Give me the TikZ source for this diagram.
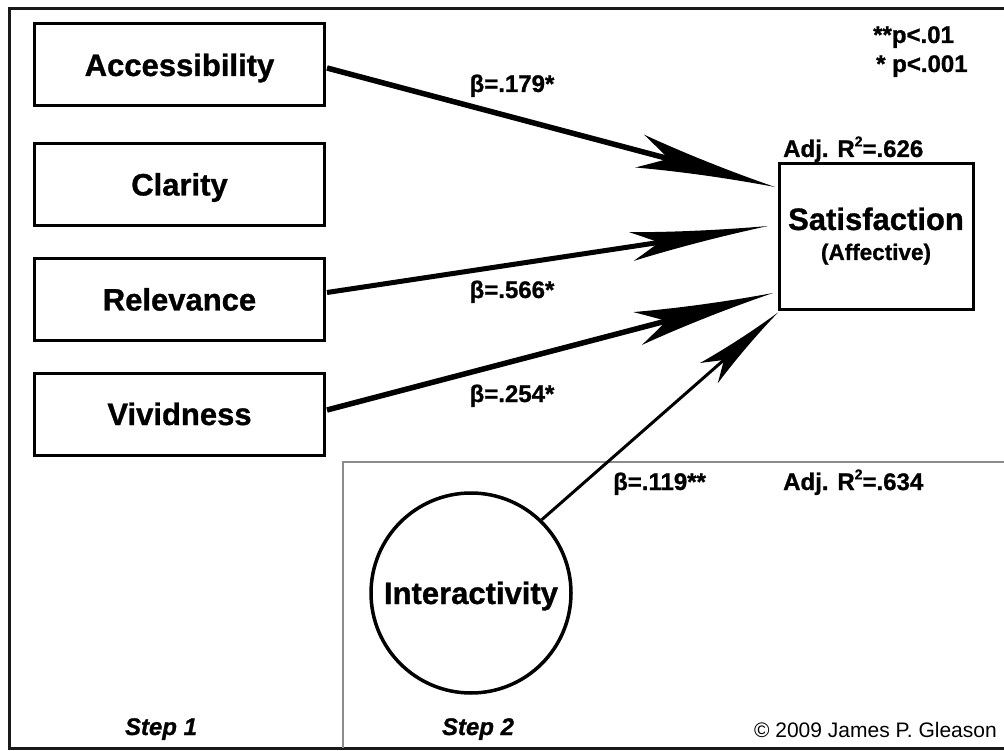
\documentclass[tikz,border=0pt]{standalone}
\usepackage{fontspec}
\setmainfont{Liberation Sans}[BoldFeatures={FakeBold=1}, BoldItalicFeatures={FakeBold=1}]
\usetikzlibrary{arrows.meta,calc}

% long barbed arrow head with concave sides
\newdimen\hdN \newdimen\hdA \newdimen\hdB
\pgfdeclarearrow{
  name = Barb Head,
  parameters = {\the\pgfarrowlength,\the\pgfarrowwidth,\the\pgfarrowinset},
  setup code = {
    \pgfarrowssettipend{0pt}
    \pgfarrowssetbackend{-\pgfarrowlength}
    \hdN=-\pgfarrowlength
    \advance\hdN by \pgfarrowinset
    \advance\hdN by 2pt
    \pgfarrowssetlineend{\hdN}
    \pgfarrowssavethe\pgfarrowlength
    \pgfarrowssavethe\pgfarrowwidth
    \pgfarrowssavethe\pgfarrowinset
  },
  drawing code = {
    \hdN=-\pgfarrowlength \advance\hdN by \pgfarrowinset
    \hdA=-\pgfarrowlength \advance\hdA by .45\pgfarrowinset
    \hdB=-\pgfarrowlength \advance\hdB by .8\pgfarrowinset
    \pgfpathmoveto{\pgfpointorigin}
    \pgfpathcurveto{\pgfpoint{-.4\pgfarrowlength}{.12\pgfarrowwidth}}{\pgfpoint{-.75\pgfarrowlength}{.32\pgfarrowwidth}}{\pgfpoint{-\pgfarrowlength}{.5\pgfarrowwidth}}
    \pgfpathcurveto{\pgfpoint{\hdA}{.28\pgfarrowwidth}}{\pgfpoint{\hdB}{.1\pgfarrowwidth}}{\pgfpoint{\hdN}{0pt}}
    \pgfpathcurveto{\pgfpoint{\hdB}{-.1\pgfarrowwidth}}{\pgfpoint{\hdA}{-.28\pgfarrowwidth}}{\pgfpoint{-\pgfarrowlength}{-.5\pgfarrowwidth}}
    \pgfpathcurveto{\pgfpoint{-.75\pgfarrowlength}{-.32\pgfarrowwidth}}{\pgfpoint{-.4\pgfarrowlength}{-.12\pgfarrowwidth}}{\pgfpointorigin}
    \pgfpathclose
    \pgfusepathqfill
  },
  defaults = {length = 140pt, width = 34pt, inset = 30pt}
}

\newcommand\bigfont{\fontsize{31}{31}\selectfont\bfseries}
\newcommand\midfont{\fontsize{24}{24}\selectfont\bfseries}

\begin{document}
\begin{tikzpicture}[x=1pt,y=-1pt,
  varbox/.style={draw, line width=3pt, minimum width=290pt, minimum height=82pt,
    inner sep=0pt, font=\bigfont, text height=22pt, text depth=0pt},
  label/.style={font=\midfont, inner sep=0pt, anchor=base},
  conn/.style={line width=5.5pt, -{Barb Head[length=140pt,width=34pt,inset=30pt]}},
]
\useasboundingbox (0,0) rectangle (1004,751);
\clip (0,0) rectangle (1004,751);
\fill[white] (0,0) rectangle (1004,751);

% outer frame (open to the right) and the step 2 panel
\draw[line width=3pt, color=black!90] (1010,9) -- (9,9) -- (9,748) -- (1010,748);
\draw[line width=1.5pt, color=black!45] (343,748) -- (343,462) -- (1010,462);

% predictor boxes
\node[varbox] (acc) at (179.5,65) {Accessibility};
\node[varbox] (cla) at (179.5,184.5) {Clarity};
\node[varbox] (rel) at (179.5,299.5) {Relevance};
\node[varbox] (viv) at (179.5,414) {Vividness};

% outcome box
\node[draw, line width=3pt, minimum width=194pt, minimum height=146pt, inner sep=0pt] (sat) at (876.5,237) {};
\node[font=\bigfont, inner sep=0pt, anchor=base] (satT) at (876,230) {Satisfaction};
\node[font=\fontsize{22.5}{22.5}\selectfont\bfseries, inner sep=0pt, anchor=base] (satS) at (876,260) {(Affective)};

% step 2 predictor
\node[circle, draw, line width=3.5pt, minimum size=200pt, inner sep=0pt,
  font=\bigfont, text height=22pt, text depth=0pt] (int) at (471,593) {Interactivity};

% arrow end points
\coordinate (accOut) at ($(acc.east)+(1,3)$);
\coordinate (relOut) at ($(rel.east)+(1,-7)$);
\coordinate (vivOut) at ($(viv.east)+(1,-4)$);
\coordinate (tipA) at ($(sat.west)+(-3,-50)$);
\coordinate (tipR) at ($(sat.west)+(-10,-11)$);
\coordinate (tipV) at ($(sat.west)+(-5,56)$);
\coordinate (tipI) at ($(sat.south west)+(0,1)$);

\draw[conn] (accOut) -- (tipA);
\draw[line width=5pt, -{Barb Head[length=138pt,width=29pt,inset=28pt]}] (relOut) -- (tipR);
\draw[conn] (vivOut) -- (tipV);
\draw[line width=3pt, -{Barb Head[length=92pt,width=27pt,inset=20pt]}] (int.46) -- (tipI);

% coefficients
\node[label] (bA) at (512,92) {β=.179*};
\node[label] (bR) at (512,298) {β=.566*};
\node[label] (bV) at (512,402) {β=.254*};
\node[label, anchor=base west] (bI) at (613,490) {β=.119**};
\node[label, anchor=base west] (r1) at (783,157) {Adj. R\raisebox{.45em}{\fontsize{14}{14}\selectfont 2}=.626};
\node[label, anchor=base west] (r2) at (783,490) {Adj. R\raisebox{.45em}{\fontsize{14}{14}\selectfont 2}=.634};

% significance legend
\node[label, anchor=base west] (p1) at (873,43) {**p<.01};
\node[label, anchor=base west] (p2) at (876,72) {* p<.001};

% footer
\node[label, font=\midfont\itshape] (s1) at (161,735) {Step 1};
\node[label, font=\midfont\itshape] (s2) at (478,735) {Step 2};
\node[inner sep=0pt, anchor=base east, font=\fontsize{21}{21}\selectfont] (copy) at (997,737) {© 2009 James P. Gleason};
\end{tikzpicture}
\end{document}
